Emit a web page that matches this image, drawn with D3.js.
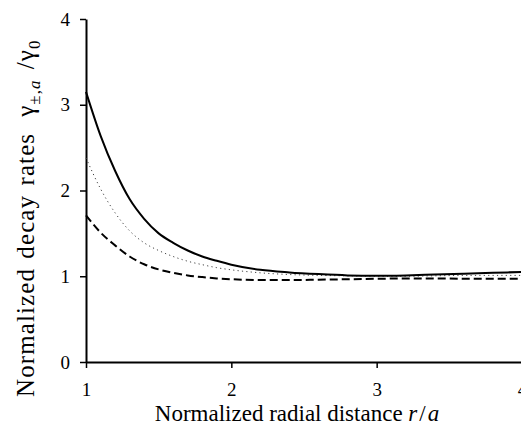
<!DOCTYPE html>
<html>
<head>
<meta charset="utf-8">
<script src="https://cdn.jsdelivr.net/npm/d3@7"></script>
<style>
  body { margin: 0; background: #fff; }
  svg { display: block; }
</style>
</head>
<body>
<div id="chart"></div>
<script>
// normalized radial distance r/a
const rValues = [1.0, 1.1, 1.2, 1.3, 1.4, 1.5, 1.6, 1.7, 1.8, 1.9, 2.0, 2.2, 2.4, 2.6, 2.8, 3.0, 3.2, 3.4, 3.6, 3.8, 4.0];
// decay rates
const solidRates  = [3.15, 2.64, 2.23, 1.90, 1.67, 1.50, 1.39, 1.30, 1.23, 1.18, 1.135, 1.075, 1.045, 1.025, 1.01, 1.005, 1.01, 1.02, 1.03, 1.04, 1.05];
const dottedRates = [2.38, 2.02, 1.74, 1.53, 1.39, 1.30, 1.23, 1.175, 1.135, 1.10, 1.075, 1.04, 1.02, 1.01, 1.005, 1.00, 1.00, 1.005, 1.01, 1.01, 1.01];
const dashedRates = [1.71, 1.51, 1.36, 1.23, 1.14, 1.08, 1.04, 1.01, 0.99, 0.975, 0.965, 0.955, 0.955, 0.96, 0.965, 0.97, 0.975, 0.975, 0.97, 0.97, 0.97];
const xTicks = [1, 2, 3, 4];
const yTicks = [0, 1, 2, 3, 4];

const width = 521, height = 428;
const margin = { top: 19, right: -1, bottom: 66, left: 86 };
const serif = "Liberation Serif";

const svg = d3.select("#chart").append("svg")
    .attr("width", width)
    .attr("height", height);

const xScale = d3.scaleLinear()
    .domain([1, 4])
    .range([margin.left, width - margin.right]);

const yScale = d3.scaleLinear()
    .domain([0, 4])
    .range([height - margin.bottom, margin.top]);

// axes
const xAxis = d3.axisBottom(xScale)
    .tickValues(xTicks)
    .tickFormat(d3.format("d"))
    .tickSize(6)
    .tickSizeOuter(0)
    .tickPadding(15);

const yAxis = d3.axisLeft(yScale)
    .tickValues(yTicks)
    .tickFormat(d3.format("d"))
    .tickSize(6)
    .tickSizeOuter(0)
    .tickPadding(10);

const xG = svg.append("g")
    .attr("transform", "translate(0," + yScale(0) + ")")
    .call(xAxis);

const yG = svg.append("g")
    .attr("transform", "translate(" + xScale(1) + ",0)")
    .call(yAxis);

[xG, yG].forEach(g => {
    g.select(".domain").attr("stroke", "#000").attr("stroke-width", 2);
    g.selectAll(".tick line").attr("stroke", "#000").attr("stroke-width", 1.5);
    g.selectAll(".tick text")
        .style("font-family", serif)
        .style("font-size", "19px")
        .attr("fill", "#000");
});

// curves
const line = d3.line()
    .x(d => xScale(d[0]))
    .y(d => yScale(d[1]))
    .curve(d3.curveMonotoneX);

const series = [
    { values: dottedRates, width: 1, dash: "1.2,3.2", color: "#444" },
    { values: dashedRates, width: 2, dash: "8,4", color: "#000" },
    { values: solidRates, width: 2, dash: null, color: "#000" }
];

series.forEach(s => {
    svg.append("path")
        .datum(rValues.map((r, i) => [r, s.values[i]]))
        .attr("fill", "none")
        .attr("stroke", s.color)
        .attr("stroke-width", s.width)
        .attr("stroke-dasharray", s.dash)
        .attr("d", line);
});

// axis titles
const xTitle = svg.append("text")
    .attr("x", 297)
    .attr("y", 421)
    .attr("text-anchor", "middle")
    .style("font-family", serif)
    .style("font-size", "23px");
xTitle.append("tspan").text("Normalized radial distance ");
xTitle.append("tspan").attr("font-style", "italic").text("r");
xTitle.append("tspan").attr("dx", 2).text("/");
xTitle.append("tspan").attr("dx", 2).attr("font-style", "italic").text("a");

const yTitle = svg.append("text")
    .attr("transform", "translate(34,397) rotate(-90)")
    .attr("text-anchor", "start")
    .style("font-family", serif)
    .style("font-size", "25px")
    .style("letter-spacing", "1.1px")
    .style("word-spacing", "2px");
yTitle.append("tspan").text("Normalized decay rates");
yTitle.append("tspan").attr("dx", 16).text("γ");
yTitle.append("tspan").style("font-size", "17px").attr("dy", 6).text("±,");
yTitle.append("tspan").style("font-size", "17px").attr("font-style", "italic").text("a");
yTitle.append("tspan").attr("dx", 10).attr("dy", -6).text("/γ");
yTitle.append("tspan").style("font-size", "17px").attr("dy", 6).text("0");
</script>
</body>
</html>
